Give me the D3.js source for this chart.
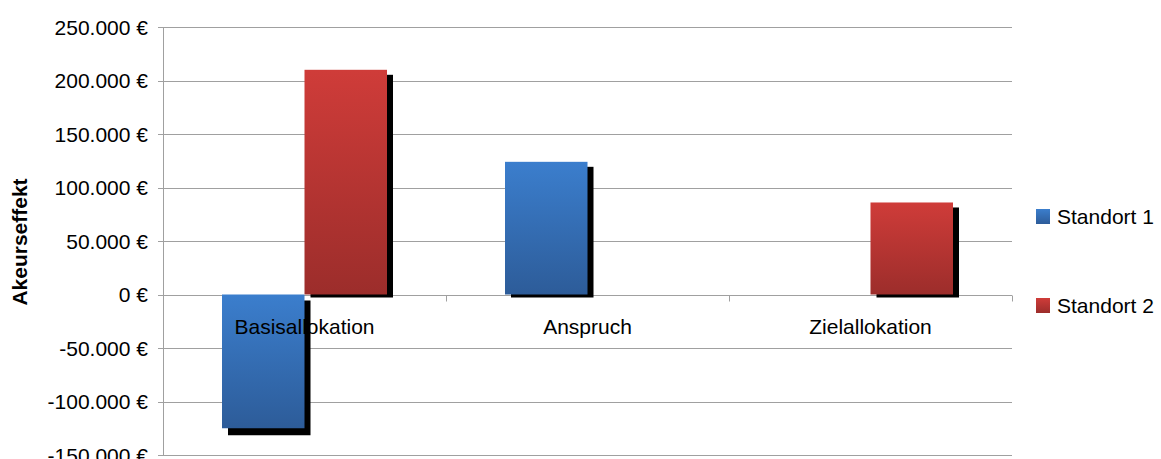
<!DOCTYPE html>
<html>
<head>
<meta charset="utf-8">
<script src="https://cdn.jsdelivr.net/npm/d3@7"></script>
<style>
  html, body { margin: 0; padding: 0; background: #fff; }
  svg { display: block; font-family: "Liberation Sans", Arial, sans-serif; }
</style>
</head>
<body>
<svg id="chart" width="1161" height="459"></svg>
<script>
// Chart data
const categories = ["Basisallokation", "Anspruch", "Zielallokation"];
const seriesNames = ["Standort 1", "Standort 2"];
const standort1 = [-125000, 124000, 0];
const standort2 = [210000, 0, 86000];
const yTicks = [-150000, -100000, -50000, 0, 50000, 100000, 150000, 200000, 250000];
const yTitle = "Akeurseffekt";

const seriesValues = [standort1, standort2];
const colors = [
  { top: "#3b7ecd", bottom: "#2d5c99" },
  { top: "#cf3c39", bottom: "#9c2d2b" }
];

const svg = d3.select("#chart");
const plot = { left: 163, right: 1012, top: 27, bottom: 455 };

const y = d3.scaleLinear().domain([-150000, 250000]).range([plot.bottom, plot.top]);
const x0 = d3.scaleBand().domain(categories).range([plot.left, plot.right]).padding(0);
const x1 = d3.scaleBand().domain(seriesNames)
  .range([59, x0.bandwidth() - 59]).padding(0);

// Euro formatting: dot as thousands separator, plain hyphen for negatives
const fmt = v => d3.format(",")(v).replace(/,/g, ".").replace("\u2212", "-") + " €";

// gradients
const defs = svg.append("defs");
colors.forEach((c, i) => {
  const g = defs.append("linearGradient")
    .attr("id", "grad" + i).attr("x1", 0).attr("y1", 0).attr("x2", 0).attr("y2", 1);
  g.append("stop").attr("offset", "0%").attr("stop-color", c.top);
  g.append("stop").attr("offset", "100%").attr("stop-color", c.bottom);
});

// horizontal gridlines
svg.append("g").selectAll("line").data(yTicks).join("line")
  .attr("x1", plot.left - 5).attr("x2", plot.right)
  .attr("y1", d => Math.round(y(d)) + 0.5).attr("y2", d => Math.round(y(d)) + 0.5)
  .attr("stroke", "#a0a0a0").attr("stroke-width", 1);

// y axis line
svg.append("line")
  .attr("x1", plot.left + 0.5).attr("x2", plot.left + 0.5)
  .attr("y1", plot.top).attr("y2", plot.bottom + 1)
  .attr("stroke", "#a0a0a0");

// category boundary ticks on the zero line
const zeroY = Math.round(y(0)) + 0.5;
const bounds = categories.map(c => x0(c) + x0.bandwidth());
svg.append("g").selectAll("line").data(bounds).join("line")
  .attr("x1", d => Math.round(d) + 0.5).attr("x2", d => Math.round(d) + 0.5)
  .attr("y1", zeroY).attr("y2", zeroY + 6)
  .attr("stroke", "#a0a0a0");

// y tick labels
svg.append("g").selectAll("text").data(yTicks).join("text")
  .attr("x", 148).attr("y", d => y(d) + 7.5)
  .attr("text-anchor", "end")
  .attr("font-size", 21)
  .attr("fill", "#000")
  .text(fmt);

// y axis title
svg.append("text")
  .attr("transform", `translate(27,${242}) rotate(-90)`)
  .attr("text-anchor", "middle")
  .attr("font-size", 21)
  .attr("font-weight", "bold")
  .attr("fill", "#000")
  .text(yTitle);

// bars with drop shadows
const barData = [];
seriesValues.forEach((vals, si) => {
  vals.forEach((v, ci) => {
    barData.push({ series: seriesNames[si], si, cat: categories[ci], value: v });
  });
});

const bars = svg.append("g");
barData.forEach(d => {
  if (d.value === 0) return;
  const bx = x0(d.cat) + x1(d.series);
  const bw = x1.bandwidth();
  const yTop = y(Math.max(0, d.value));
  const yBot = y(Math.min(0, d.value));
  const neg = d.value < 0;
  // shadow
  bars.append("rect")
    .attr("x", bx + 6).attr("width", bw)
    .attr("y", yTop + (neg ? 6 : 5))
    .attr("height", (yBot + (neg ? 7 : 3)) - (yTop + (neg ? 6 : 5)))
    .attr("fill", "#000");
  // bar
  bars.append("rect")
    .attr("x", bx).attr("width", bw)
    .attr("y", yTop).attr("height", yBot - yTop)
    .attr("fill", `url(#grad${d.si})`);
});

// category labels
svg.append("g").selectAll("text").data(categories).join("text")
  .attr("x", d => x0(d) + x0.bandwidth() / 2)
  .attr("y", 334)
  .attr("text-anchor", "middle")
  .attr("font-size", 21)
  .attr("fill", "#000")
  .text(d => d);

// legend
const legendY = [216, 305];
const legend = svg.append("g").selectAll("g").data(seriesNames).join("g")
  .attr("transform", (d, i) => `translate(1036,${legendY[i]})`);
legend.append("rect")
  .attr("x", 0).attr("y", -7).attr("width", 14).attr("height", 15)
  .attr("fill", (d, i) => `url(#grad${i})`);
legend.append("text")
  .attr("x", 21).attr("y", 8)
  .attr("font-size", 21)
  .attr("fill", "#000")
  .text(d => d);
</script>
</body>
</html>
